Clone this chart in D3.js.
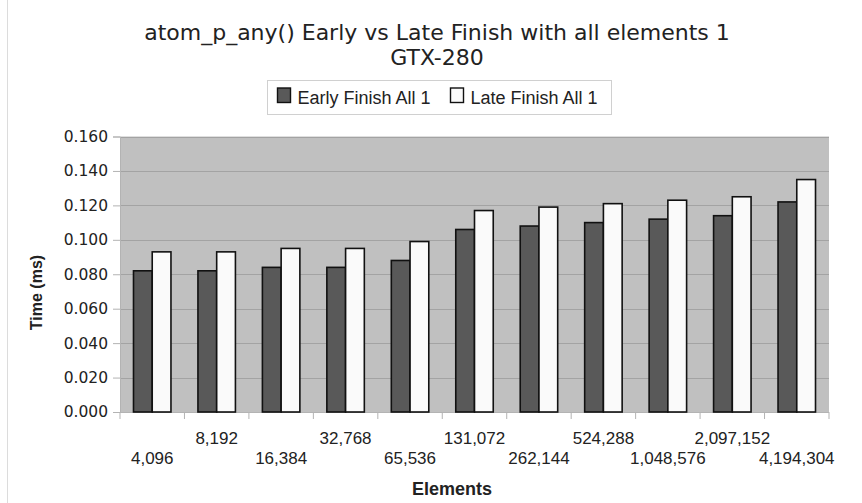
<!DOCTYPE html>
<html>
<head>
<meta charset="utf-8">
<script src="https://cdn.jsdelivr.net/npm/d3@7"></script>
<style>
  html, body { margin: 0; padding: 0; background: #ffffff; }
  svg { display: block; font-family: "Liberation Sans", Arial, sans-serif; }
</style>
</head>
<body>
<svg id="chart" width="862" height="503"></svg>
<script>
// Element counts along the x axis
const categories = ["4,096", "8,192", "16,384", "32,768", "65,536", "131,072",
  "262,144", "524,288", "1,048,576", "2,097,152", "4,194,304"];
const seriesNames = ["Early Finish All 1", "Late Finish All 1"];
// Time (ms) per element count
const earlyFinish = [0.082, 0.082, 0.084, 0.084, 0.088, 0.106, 0.108, 0.110, 0.112, 0.114, 0.122];
const lateFinish  = [0.093, 0.093, 0.095, 0.095, 0.099, 0.117, 0.119, 0.121, 0.123, 0.125, 0.135];
const yTicks = [0, 0.02, 0.04, 0.06, 0.08, 0.10, 0.12, 0.14, 0.16];

const svg = d3.select("#chart");
const plot = { left: 120, right: 829, top: 136.5, bottom: 412 };
const colors = ["#595959", "#fafafa"];

// chart border on the left edge
svg.append("line").attr("x1", 7.5).attr("x2", 7.5).attr("y1", 0).attr("y2", 503)
  .attr("stroke", "#dcdcdc").attr("stroke-width", 1);

const x = d3.scaleBand().domain(categories).range([plot.left, plot.right]).padding(0);
const xInner = d3.scaleBand().domain(seriesNames)
  .range([0, x.bandwidth()]).paddingInner(0).paddingOuter(0.72);
const y = d3.scaleLinear().domain([0, 0.16]).range([plot.bottom, plot.top]);

// plot background
svg.append("rect").attr("x", plot.left).attr("y", plot.top)
  .attr("width", plot.right - plot.left).attr("height", plot.bottom - plot.top)
  .attr("fill", "#c0c0c0");

// horizontal gridlines
svg.append("g").selectAll("line").data(yTicks.slice(1)).join("line")
  .attr("x1", plot.left).attr("x2", plot.right)
  .attr("y1", d => Math.round(y(d)) + 0.5).attr("y2", d => Math.round(y(d)) + 0.5)
  .attr("stroke", "#a3a3a3").attr("stroke-width", 1.2);

// y axis
const yAxis = d3.axisLeft(y).tickValues(yTicks).tickFormat(d3.format(".3f"))
  .tickSize(7).tickPadding(5);
const gy = svg.append("g").attr("transform", `translate(${plot.left},0)`).call(yAxis);
gy.select(".domain").attr("stroke", "#b3b3b3");
gy.selectAll(".tick line").attr("stroke", "#b3b3b3");
gy.selectAll(".tick text").attr("fill", "#222").style("font-size", "15.5px")
  .style("font-family", "'DejaVu Sans', sans-serif");

// x axis: ticks on band boundaries
const boundaries = categories.map(c => x(c)).concat([plot.right]);
svg.append("line").attr("x1", plot.left).attr("x2", plot.right)
  .attr("y1", plot.bottom + 0.5).attr("y2", plot.bottom + 0.5).attr("stroke", "#b3b3b3");
svg.append("g").selectAll("line").data(boundaries).join("line")
  .attr("x1", d => d).attr("x2", d => d)
  .attr("y1", plot.bottom).attr("y2", plot.bottom + 7)
  .attr("stroke", "#b3b3b3");

// staggered category labels
svg.append("g").selectAll("text").data(categories).join("text")
  .attr("x", d => x(d) + x.bandwidth() / 2)
  .attr("y", (d, i) => i % 2 === 0 ? 463.5 : 443.5)
  .attr("text-anchor", "middle")
  .attr("fill", "#222").style("font-size", "17px")
  .text(d => d);

// bars
const groups = svg.append("g").selectAll("g").data(categories).join("g")
  .attr("transform", d => `translate(${x(d)},0)`);
groups.selectAll("rect").data((d, i) => [
    { key: seriesNames[0], value: earlyFinish[i], c: 0 },
    { key: seriesNames[1], value: lateFinish[i], c: 1 }])
  .join("rect")
  .attr("x", d => xInner(d.key))
  .attr("y", d => y(d.value))
  .attr("width", xInner.bandwidth())
  .attr("height", d => y(0) - y(d.value))
  .attr("fill", d => colors[d.c])
  .attr("stroke", "#111").attr("stroke-width", 1.6);

// axis titles
svg.append("text").attr("x", 452).attr("y", 495)
  .attr("text-anchor", "middle").attr("font-weight", "bold")
  .attr("fill", "#222").style("font-size", "18px").text("Elements");
svg.append("text").attr("transform", "translate(41.5,292.5) rotate(-90)")
  .attr("text-anchor", "middle").attr("font-weight", "bold")
  .attr("fill", "#222").style("font-size", "16px").text("Time (ms)");

// title
const title = svg.append("text").attr("text-anchor", "middle")
  .attr("fill", "#222").style("font-size", "22px")
  .style("font-family", "'DejaVu Sans', sans-serif");
title.append("tspan").attr("x", 437).attr("y", 39.5)
  .text("atom_p_any() Early vs Late Finish with all elements 1");
title.append("tspan").attr("x", 437).attr("y", 65).text("GTX-280");

// legend
const legend = svg.append("g");
legend.append("rect").attr("x", 267.5).attr("y", 80.5).attr("width", 344).attr("height", 34)
  .attr("fill", "#fff").attr("stroke", "#d0d0d0");
const legendItems = [{ name: seriesNames[0], x: 277.5 }, { name: seriesNames[1], x: 450.5 }];
legendItems.forEach((it, i) => {
  legend.append("rect").attr("x", it.x).attr("y", 88).attr("width", 13).attr("height", 14.5)
    .attr("fill", colors[i]).attr("stroke", "#111").attr("stroke-width", 1.4);
  legend.append("text").attr("x", it.x + 20).attr("y", 104)
    .attr("fill", "#222").style("font-size", "18px").text(it.name);
});
</script>
</body>
</html>
